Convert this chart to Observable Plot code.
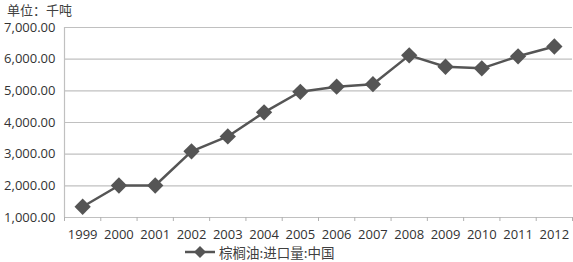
<!DOCTYPE html>
<html><head><meta charset="utf-8">
<script src="https://cdn.jsdelivr.net/npm/d3@7"></script>
<script src="https://cdn.jsdelivr.net/npm/@observablehq/plot@0.6"></script>
<style>
body{margin:0;background:#fff;}
#wrap{position:relative;width:573px;height:262px;overflow:hidden;font-family:"Open Sans",sans-serif;}
#title{position:absolute;left:7px;top:2px;font:13px/15px "Noto Sans CJK SC",sans-serif;color:#404040;}
#legend{position:absolute;left:184px;top:242px;font:13.5px "Noto Sans CJK SC",sans-serif;color:#404040;display:flex;align-items:center;}
#legend svg{margin-right:3px;}
</style></head>
<body><div id="wrap"><div id="title">单位：千吨</div><div id="legend"></div></div>
<script>
const years = [1999,2000,2001,2002,2003,2004,2005,2006,2007,2008,2009,2010,2011,2012];
const values = [1340,2010,2010,3090,3560,4320,4970,5130,5210,6120,5760,5710,6090,6400];
const yTicks = [1000,2000,3000,4000,5000,6000,7000];
const seriesName = "棕榈油:进口量:中国";
const title = "单位：千吨";

const data = years.map((y,i)=>({year:y,value:values[i]}));
const boundaries = [years[0]-0.5, ...years.map(y=>y+0.5)];
const lineColor = "#555555";
const rhombus = {draw(ctx,size){const r=Math.sqrt(size/2);ctx.moveTo(0,-r);ctx.lineTo(r,0);ctx.lineTo(0,r);ctx.lineTo(-r,0);ctx.closePath();}};
const plot = Plot.plot({
  width:573, height:262,
  marginLeft:64, marginRight:1, marginTop:27, marginBottom:45,
  style:{fontFamily:"'Open Sans',sans-serif", fontSize:"12px", color:"#333"},
  x:{type:"linear", domain:[years[0]-0.5, years[years.length-1]+0.5], axis:null},
  y:{domain:[1000,7000], axis:null},
  marks:[
    Plot.ruleY(yTicks,{stroke:"#c0c0c0", strokeWidth:1.2}),
    Plot.ruleX([boundaries[0]],{y1:1000,y2:7000,stroke:"#c0c0c0",strokeWidth:1.2}),
    Plot.axisX({ticks:boundaries, tickFormat:()=>"", tickSize:4, stroke:"#b0b0b0", label:null}),
    Plot.axisX({ticks:years, tickFormat:d=>String(d), tickSize:0, tickPadding:12, fontSize:13, fill:"#333", label:null}),
    Plot.axisY({ticks:yTicks, tickFormat:d3.format(",.2f"), tickSize:0, tickPadding:9, fontSize:13, fill:"#333", label:null}),
    Plot.line(data,{x:"year",y:"value",stroke:lineColor,strokeWidth:2.5}),
    Plot.dot(data,{x:"year",y:"value",symbol:rhombus,r:6.5,fill:lineColor,stroke:"none"})
  ]
});
document.getElementById("wrap").prepend(plot);
plot.style.position="absolute"; plot.style.left="0"; plot.style.top="0";
document.getElementById("title").textContent = title;
const lg = document.getElementById("legend");
lg.innerHTML = `<svg width="32" height="12"><line x1="1" y1="6" x2="31" y2="6" stroke="${lineColor}" stroke-width="2.5"/><path d="M16,0L22,6L16,12L10,6Z" fill="${lineColor}"/></svg><span></span>`;
lg.querySelector("span").textContent = seriesName;
</script></body></html>
